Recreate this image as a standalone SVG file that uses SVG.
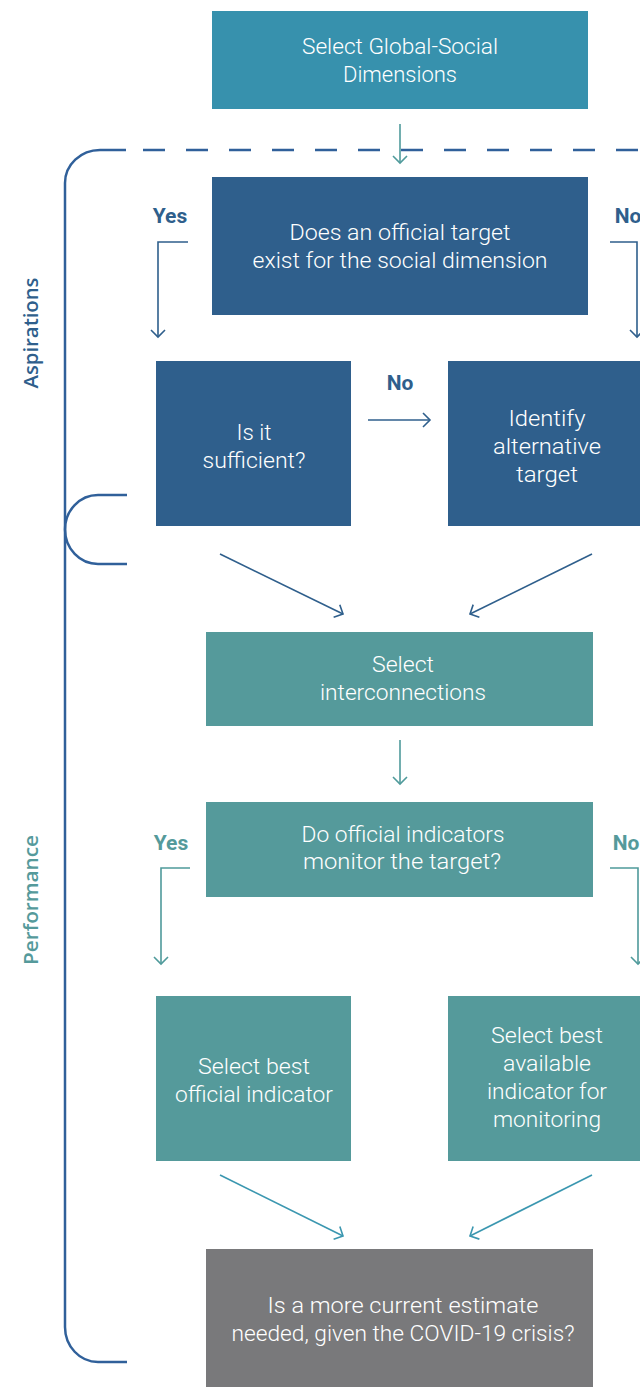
<svg xmlns="http://www.w3.org/2000/svg" width="640" height="1387" viewBox="0 0 640 1387">
<style>
.t{font-family:Roboto,"Liberation Sans",sans-serif;font-size:22px;font-weight:300;fill:#ffffff;text-anchor:middle}
.lb{font-family:Roboto,"Liberation Sans",sans-serif;font-size:21px;font-weight:700;text-anchor:middle}
.side{font-family:"Open Sans","Liberation Sans",sans-serif;font-size:19px;font-weight:600;text-anchor:middle}
.blue{fill:#2f5f8c}
.teal{fill:#559a9b}
.cb{fill:none;stroke:#2f5f8c;stroke-width:1.6}
.ct{fill:none;stroke:#4f9a9b;stroke-width:1.6}
.cc{fill:none;stroke:#3b97b0;stroke-width:1.6}
.br{fill:none;stroke:#30609a;stroke-width:2.5}
</style>
<defs>
<marker id="ab" markerUnits="userSpaceOnUse" markerWidth="16" markerHeight="16" refX="8" refY="8" orient="auto"><path d="M1,1 L8,8 L1,15" fill="none" stroke="#2f5f8c" stroke-width="1.6"/></marker>
<marker id="at" markerUnits="userSpaceOnUse" markerWidth="16" markerHeight="16" refX="8" refY="8" orient="auto"><path d="M1,1 L8,8 L1,15" fill="none" stroke="#4f9a9b" stroke-width="1.6"/></marker>
<marker id="ac" markerUnits="userSpaceOnUse" markerWidth="16" markerHeight="16" refX="8" refY="8" orient="auto"><path d="M1,1 L8,8 L1,15" fill="none" stroke="#3b97b0" stroke-width="1.6"/></marker>
</defs>

<g id="bracket">
<path class="br" d="M126,150 H100 A35,33 0 0 0 65,183 V1327 A33,35 0 0 0 98,1362 H127"/>
<path class="br" d="M143,150 H640" stroke-dasharray="22 21"/>
<path class="br" d="M127,495 H98 A33,34.5 0 0 0 98,564 H127"/>
</g>

<g id="side-labels">
<text class="side blue" transform="translate(38,333) rotate(-90)" textLength="111" lengthAdjust="spacingAndGlyphs">Aspirations</text>
<text class="side teal" transform="translate(38,900) rotate(-90)" textLength="130" lengthAdjust="spacingAndGlyphs">Performance</text>
</g>

<g id="connectors">
<path class="ct" d="M400,124 V163" marker-end="url(#at)"/>
<path class="cb" d="M188,242 H158 V337" marker-end="url(#ab)"/>
<path class="cb" d="M610,242 H637 V337" marker-end="url(#ab)"/>
<path class="cb" d="M368,420 H430" marker-end="url(#ab)"/>
<path class="cb" d="M220,554 L343,614" marker-end="url(#ab)"/>
<path class="cb" d="M592,554 L470,614" marker-end="url(#ab)"/>
<path class="ct" d="M400,740 V784" marker-end="url(#at)"/>
<path class="ct" d="M190,868 H161 V964" marker-end="url(#at)"/>
<path class="ct" d="M610,868 H638 V964" marker-end="url(#at)"/>
<path class="cc" d="M220,1175 L343,1236" marker-end="url(#ac)"/>
<path class="cc" d="M592,1175 L470,1236" marker-end="url(#ac)"/>
</g>

<g id="edge-labels">
<text class="lb blue" x="170" y="223">Yes</text>
<text class="lb blue" x="628" y="223">No</text>
<text class="lb blue" x="400" y="390">No</text>
<text class="lb teal" x="171" y="850">Yes</text>
<text class="lb teal" x="626" y="850">No</text>
</g>

<g id="n-select-dimensions">
<rect x="212" y="11" width="376" height="98" fill="#3791ad"/>
<text class="t" x="400" y="54" textLength="196" lengthAdjust="spacingAndGlyphs">Select Global-Social</text>
<text class="t" x="400" y="82" textLength="114" lengthAdjust="spacingAndGlyphs">Dimensions</text>
</g>

<g id="n-official-target">
<rect x="212" y="177" width="376" height="138" fill="#2f5f8c"/>
<text class="t" x="400" y="240" textLength="221" lengthAdjust="spacingAndGlyphs">Does an official target</text>
<text class="t" x="400" y="268" textLength="295" lengthAdjust="spacingAndGlyphs">exist for the social dimension</text>
</g>

<g id="n-sufficient">
<rect x="156" y="361" width="195" height="165" fill="#2f5f8c"/>
<text class="t" x="254" y="440" textLength="35" lengthAdjust="spacingAndGlyphs">Is it</text>
<text class="t" x="254" y="468" textLength="103" lengthAdjust="spacingAndGlyphs">sufficient?</text>
</g>

<g id="n-alternative">
<rect x="448" y="361" width="192" height="165" fill="#2f5f8c"/>
<text class="t" x="547" y="426" textLength="77" lengthAdjust="spacingAndGlyphs">Identify</text>
<text class="t" x="547" y="454" textLength="108" lengthAdjust="spacingAndGlyphs">alternative</text>
<text class="t" x="547" y="482" textLength="62" lengthAdjust="spacingAndGlyphs">target</text>
</g>

<g id="n-interconnections">
<rect x="206" y="632" width="387" height="94" fill="#559a9b"/>
<text class="t" x="403" y="672" textLength="62" lengthAdjust="spacingAndGlyphs">Select</text>
<text class="t" x="403" y="700" textLength="166" lengthAdjust="spacingAndGlyphs">interconnections</text>
</g>

<g id="n-indicators">
<rect x="206" y="802" width="387" height="95" fill="#559a9b"/>
<text class="t" x="403" y="842" textLength="203" lengthAdjust="spacingAndGlyphs">Do official indicators</text>
<text class="t" x="402" y="869" textLength="198" lengthAdjust="spacingAndGlyphs">monitor the target?</text>
</g>

<g id="n-official-indicator">
<rect x="156" y="996" width="195" height="165" fill="#559a9b"/>
<text class="t" x="254" y="1074" textLength="112" lengthAdjust="spacingAndGlyphs">Select best</text>
<text class="t" x="254" y="1102" textLength="158" lengthAdjust="spacingAndGlyphs">official indicator</text>
</g>

<g id="n-available-indicator">
<rect x="448" y="996" width="192" height="165" fill="#559a9b"/>
<text class="t" x="547" y="1043" textLength="112" lengthAdjust="spacingAndGlyphs">Select best</text>
<text class="t" x="547" y="1071" textLength="88" lengthAdjust="spacingAndGlyphs">available</text>
<text class="t" x="547" y="1099" textLength="120" lengthAdjust="spacingAndGlyphs">indicator for</text>
<text class="t" x="547" y="1127" textLength="108" lengthAdjust="spacingAndGlyphs">monitoring</text>
</g>

<g id="n-covid">
<rect x="206" y="1249" width="387" height="138" fill="#79797b"/>
<text class="t" x="403" y="1313" textLength="271" lengthAdjust="spacingAndGlyphs">Is a more current estimate</text>
<text class="t" x="403" y="1341" textLength="343" lengthAdjust="spacingAndGlyphs">needed, given the COVID-19 crisis?</text>
</g>
</svg>
